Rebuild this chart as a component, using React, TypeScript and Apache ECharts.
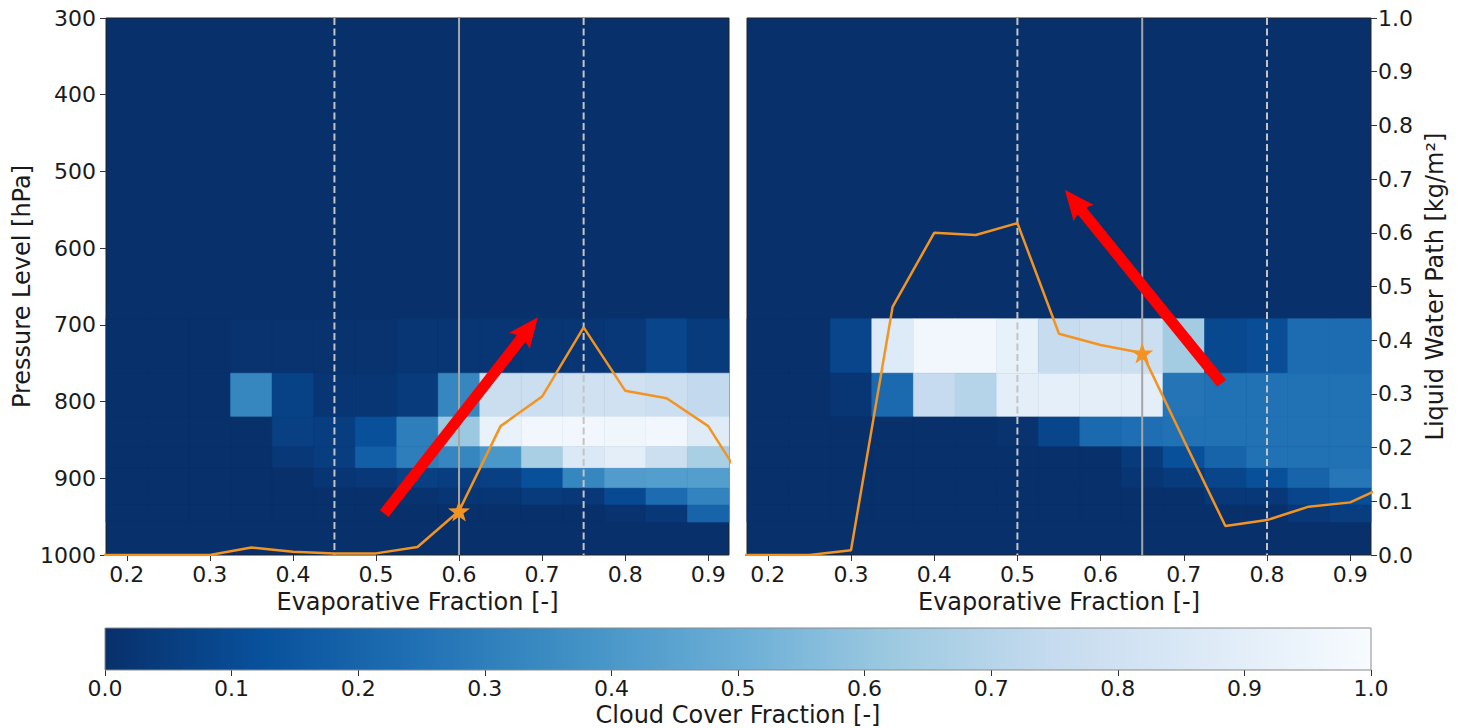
import React, { useEffect, useRef } from "react";
import * as echarts from "echarts";

// ---------- data ----------
const efTicks = [0.2, 0.3, 0.4, 0.5, 0.6, 0.7, 0.8, 0.9];
const efMin = 0.175;
const efMax = 0.925;
const pressureMin = 300;
const pressureMax = 1000;
const pressureStep = 100;
const lwpMin = 0;
const lwpMax = 1;
const lwpStep = 0.1;
const cbMin = 0;
const cbMax = 1;
const cbStep = 0.1;

// heatmap cells: evaporative-fraction bin centres and pressure bin edges (top -> bottom)
const cellCenters = [0.2, 0.25, 0.3, 0.35, 0.4, 0.45, 0.5, 0.55, 0.6, 0.65, 0.7, 0.75, 0.8, 0.85, 0.9];
const cellWidth = 0.05;
const pressureEdges = [692, 763, 820, 859, 887, 913, 935, 957];

// cloud cover fraction, rows follow pressureEdges, columns follow cellCenters
const cloudLeft = [
  [0, 0, 0, 0.01, 0.01, 0.01, 0.01, 0.02, 0.02, 0.02, 0.02, 0.02, 0.03, 0.08, 0.04],
  [0, 0, 0, 0.33, 0.07, 0.02, 0.02, 0.04, 0.33, 0.77, 0.78, 0.8, 0.8, 0.78, 0.74],
  [0, 0, 0, 0, 0.06, 0.05, 0.12, 0.3, 0.62, 0.93, 0.97, 0.97, 0.96, 0.97, 0.88],
  [0, 0, 0, 0, 0.03, 0.05, 0.18, 0.3, 0.33, 0.4, 0.66, 0.86, 0.9, 0.78, 0.66],
  [0, 0, 0, 0, 0, 0.02, 0.03, 0.06, 0.05, 0.06, 0.12, 0.33, 0.42, 0.43, 0.43],
  [0, 0, 0, 0, 0, 0, 0, 0.01, 0.02, 0.02, 0.04, 0.03, 0.1, 0.23, 0.32],
  [0, 0, 0, 0, 0, 0, 0, 0, 0, 0, 0, 0, 0.01, 0.03, 0.2],
];
const cloudRight = [
  [0, 0, 0.08, 0.87, 0.97, 0.97, 0.92, 0.76, 0.78, 0.78, 0.64, 0.09, 0.11, 0.23, 0.23],
  [0, 0, 0.02, 0.22, 0.75, 0.7, 0.9, 0.91, 0.9, 0.9, 0.26, 0.25, 0.25, 0.25, 0.25],
  [0, 0, 0, 0, 0, 0, 0.01, 0.08, 0.22, 0.24, 0.25, 0.25, 0.25, 0.25, 0.25],
  [0, 0, 0, 0, 0, 0, 0, 0, 0, 0.04, 0.12, 0.2, 0.25, 0.25, 0.25],
  [0, 0, 0, 0, 0, 0, 0, 0, 0, 0.02, 0.04, 0.08, 0.12, 0.2, 0.27],
  [0, 0, 0, 0, 0, 0, 0, 0, 0, 0, 0, 0.03, 0.03, 0.08, 0.11],
  [0, 0, 0, 0, 0, 0, 0, 0, 0, 0, 0, 0, 0, 0.03, 0.05],
];

// liquid water path lines
const efLine = [0.15, 0.2, 0.25, 0.3, 0.35, 0.4, 0.45, 0.5, 0.55, 0.6, 0.65, 0.7, 0.75, 0.8, 0.85, 0.9, 0.95];
const lwpLeft = [0, 0, 0, 0, 0.014, 0.006, 0.003, 0.003, 0.015, 0.082, 0.24, 0.295, 0.424, 0.306, 0.292, 0.24, 0.118];
const lwpRight = [0, 0, 0, 0.009, 0.462, 0.6, 0.596, 0.618, 0.412, 0.391, 0.376, 0.214, 0.054, 0.065, 0.09, 0.098, 0.134];

// star markers [ef, lwp]
const starLeft = [0.6, 0.082];
const starRight = [0.65, 0.376];

// vertical reference lines (evaporative fraction)
const dashedLeft = [0.45, 0.75];
const solidLeft = [0.6];
const dashedRight = [0.5, 0.8];
const solidRight = [0.65];

// arrows: [ef tail, hPa tail, ef tip, hPa tip]
const arrowLeft = [0.51, 946, 0.695, 690];
const arrowRight = [0.7455, 776, 0.557, 524];

// ---------- styling helpers ----------
const BLUES_R = ["#08306b", "#08519c", "#2171b5", "#4292c6", "#6baed6", "#9ecae1", "#c6dbef", "#deebf7", "#f7fbff"];
const FONT = "DejaVu Sans";
const TEXT = "#1a1a1a";
const ORANGE = "#f39422";

function hexToRgb(h: string) {
  return [parseInt(h.slice(1, 3), 16), parseInt(h.slice(3, 5), 16), parseInt(h.slice(5, 7), 16)];
}
function cmap(v: number) {
  const t = Math.max(0, Math.min(1, v)) * (BLUES_R.length - 1);
  const i = Math.min(Math.floor(t), BLUES_R.length - 2);
  const f = t - i;
  const a = hexToRgb(BLUES_R[i]);
  const b = hexToRgb(BLUES_R[i + 1]);
  const c = a.map((x, k) => Math.round(x + (b[k] - x) * f));
  return `rgb(${c[0]},${c[1]},${c[2]})`;
}

function cellData(matrix: number[][]) {
  const out: number[][] = [];
  matrix.forEach((row, r) => {
    row.forEach((v, c) => {
      out.push([cellCenters[c], pressureEdges[r], pressureEdges[r + 1], v]);
    });
  });
  return out;
}

const renderCell = (params: any, api: any) => {
  const x = api.value(0);
  const a = api.coord([x - cellWidth / 2, api.value(1)]);
  const b = api.coord([x + cellWidth / 2, api.value(2)]);
  const col = cmap(api.value(3));
  return {
    type: "rect",
    shape: {
      x: Math.min(a[0], b[0]),
      y: Math.min(a[1], b[1]),
      width: Math.abs(b[0] - a[0]),
      height: Math.abs(b[1] - a[1]),
    },
    style: { fill: col, stroke: col, lineWidth: 0.6 },
  };
};

const makeVLineRender = (color: string, dashed: boolean) => (params: any, api: any) => {
  const a = api.coord([api.value(0), api.value(1)]);
  const b = api.coord([api.value(0), api.value(2)]);
  return {
    type: "line",
    shape: { x1: a[0], y1: a[1], x2: b[0], y2: b[1] },
    style: { stroke: color, lineWidth: 2, lineDash: dashed ? [7, 3.5] : null },
  };
};

const renderArrow = (params: any, api: any) => {
  const p0 = api.coord([api.value(0), api.value(1)]);
  const p1 = api.coord([api.value(2), api.value(3)]);
  const dx = p1[0] - p0[0];
  const dy = p1[1] - p0[1];
  const len = Math.hypot(dx, dy);
  const ux = dx / len;
  const uy = dy / len;
  const nx = -uy;
  const ny = ux;
  const headLen = 27;
  const headHalf = 13;
  const stemHalf = 5.5;
  const bx = p1[0] - ux * headLen;
  const by = p1[1] - uy * headLen;
  const pts = [
    [p0[0] + nx * stemHalf, p0[1] + ny * stemHalf],
    [bx + nx * stemHalf, by + ny * stemHalf],
    [bx + nx * headHalf - ux * 3, by + ny * headHalf - uy * 3],
    [p1[0], p1[1]],
    [bx - nx * headHalf - ux * 3, by - ny * headHalf - uy * 3],
    [bx - nx * stemHalf, by - ny * stemHalf],
    [p0[0] - nx * stemHalf, p0[1] - ny * stemHalf],
  ];
  return { type: "polygon", shape: { points: pts }, style: { fill: "#ff0000" } };
};

const renderColorbar = (params: any, api: any) => {
  const a = api.coord([api.value(0), 0]);
  const b = api.coord([api.value(1), 1]);
  const stops = BLUES_R.map((c, i) => ({ offset: i / (BLUES_R.length - 1), color: c }));
  return {
    type: "rect",
    shape: { x: a[0], y: b[1], width: b[0] - a[0], height: a[1] - b[1] },
    style: { fill: new echarts.graphic.LinearGradient(0, 0, 1, 0, stops), stroke: "#8a8a8a", lineWidth: 1 },
  };
};

const STAR =
  "path://M0,-10L2.35,-3.24L9.51,-3.09L3.8,1.24L5.88,8.09L0,4.05L-5.88,8.09L-3.8,1.24L-9.51,-3.09L-2.35,-3.24Z";

const labelStyle = { fontFamily: FONT, fontSize: 22, color: TEXT };
const nameStyle = { fontFamily: FONT, fontSize: 24, color: TEXT };
const tickStyle = { show: true, length: 6, lineStyle: { color: "#333", width: 1 } };

function efAxis(gridIndex: number) {
  return {
    type: "value",
    gridIndex,
    min: efMin,
    max: efMax,
    name: "Evaporative Fraction [-]",
    nameLocation: "middle",
    nameGap: 34,
    nameTextStyle: nameStyle,
    axisLine: { show: false },
    axisTick: { ...tickStyle, customValues: efTicks },
    axisLabel: { ...labelStyle, margin: 8, customValues: efTicks, formatter: (v: number) => v.toFixed(1) },
    splitLine: { show: false },
  };
}

function lineData(ys: number[]) {
  return efLine.map((x, i) => [x, ys[i]]);
}

export default function App() {
  const ref = useRef<HTMLDivElement>(null);
  useEffect(() => {
    if (!ref.current) return;
    const chart = echarts.init(ref.current, null, { renderer: "svg" });
    const gridCommon = {
      top: 18,
      height: 537,
      show: true,
      backgroundColor: BLUES_R[0],
      borderColor: "#222",
      borderWidth: 1,
    };
    const option: any = {
      animation: false,
      backgroundColor: "#ffffff",
      textStyle: { fontFamily: FONT },
      grid: [
        { ...gridCommon, left: 106, width: 623 },
        { ...gridCommon, left: 747, width: 624 },
        { left: 105, top: 628, width: 1266, height: 42, show: false },
      ],
      xAxis: [
        efAxis(0),
        efAxis(1),
        {
          type: "value",
          gridIndex: 2,
          min: cbMin,
          max: cbMax,
          interval: cbStep,
          name: "Cloud Cover Fraction [-]",
          nameLocation: "middle",
          nameGap: 33,
          nameTextStyle: nameStyle,
          axisLine: { show: false },
          axisTick: tickStyle,
          axisLabel: { ...labelStyle, margin: 7, formatter: (v: number) => v.toFixed(1) },
          splitLine: { show: false },
        },
      ],
      yAxis: [
        {
          type: "value",
          gridIndex: 0,
          min: pressureMin,
          max: pressureMax,
          interval: pressureStep,
          inverse: true,
          name: "Pressure Level [hPa]",
          nameLocation: "middle",
          nameRotate: 90,
          nameGap: 72,
          nameTextStyle: nameStyle,
          axisLine: { show: false },
          axisTick: tickStyle,
          axisLabel: { ...labelStyle, margin: 10, formatter: (v: number) => String(v) },
          splitLine: { show: false },
        },
        { type: "value", gridIndex: 0, min: lwpMin, max: lwpMax, position: "right", show: false, splitLine: { show: false } },
        {
          type: "value",
          gridIndex: 1,
          min: pressureMin,
          max: pressureMax,
          interval: pressureStep,
          inverse: true,
          show: false,
          splitLine: { show: false },
        },
        {
          type: "value",
          gridIndex: 1,
          min: lwpMin,
          max: lwpMax,
          interval: lwpStep,
          position: "right",
          name: "Liquid Water Path [kg/m²]",
          nameLocation: "middle",
          nameRotate: 90,
          nameGap: 52,
          nameTextStyle: nameStyle,
          axisLine: { show: false },
          axisTick: tickStyle,
          axisLabel: { ...labelStyle, margin: 7, formatter: (v: number) => v.toFixed(1) },
          splitLine: { show: false },
        },
        { type: "value", gridIndex: 2, min: 0, max: 1, show: false, splitLine: { show: false } },
      ],
      series: [
        // heatmaps
        { type: "custom", xAxisIndex: 0, yAxisIndex: 0, renderItem: renderCell, data: cellData(cloudLeft), z: 1, silent: true },
        { type: "custom", xAxisIndex: 1, yAxisIndex: 2, renderItem: renderCell, data: cellData(cloudRight), z: 1, silent: true },
        // vertical lines
        {
          type: "custom", xAxisIndex: 0, yAxisIndex: 0, z: 2, silent: true,
          renderItem: makeVLineRender("#c4c4c4", true),
          data: dashedLeft.map((x) => [x, pressureMin, pressureMax]),
        },
        {
          type: "custom", xAxisIndex: 0, yAxisIndex: 0, z: 2, silent: true,
          renderItem: makeVLineRender("#a6a6a6", false),
          data: solidLeft.map((x) => [x, pressureMin, pressureMax]),
        },
        {
          type: "custom", xAxisIndex: 1, yAxisIndex: 2, z: 2, silent: true,
          renderItem: makeVLineRender("#c4c4c4", true),
          data: dashedRight.map((x) => [x, pressureMin, pressureMax]),
        },
        {
          type: "custom", xAxisIndex: 1, yAxisIndex: 2, z: 2, silent: true,
          renderItem: makeVLineRender("#a6a6a6", false),
          data: solidRight.map((x) => [x, pressureMin, pressureMax]),
        },
        // LWP lines
        {
          type: "line", xAxisIndex: 0, yAxisIndex: 1, z: 3, data: lineData(lwpLeft), showSymbol: false,
          lineStyle: { color: ORANGE, width: 2.5 }, itemStyle: { color: ORANGE }, clip: true, silent: true,
        },
        {
          type: "line", xAxisIndex: 1, yAxisIndex: 3, z: 3, data: lineData(lwpRight), showSymbol: false,
          lineStyle: { color: ORANGE, width: 2.5 }, itemStyle: { color: ORANGE }, clip: true, silent: true,
        },
        // stars
        {
          type: "scatter", xAxisIndex: 0, yAxisIndex: 1, z: 4, data: [starLeft], symbol: STAR, symbolSize: 22,
          symbolKeepAspect: true, itemStyle: { color: ORANGE, opacity: 1 }, silent: true,
        },
        {
          type: "scatter", xAxisIndex: 1, yAxisIndex: 3, z: 4, data: [starRight], symbol: STAR, symbolSize: 22,
          symbolKeepAspect: true, itemStyle: { color: ORANGE, opacity: 1 }, silent: true,
        },
        // arrows
        { type: "custom", xAxisIndex: 0, yAxisIndex: 0, z: 5, renderItem: renderArrow, data: [arrowLeft], silent: true },
        { type: "custom", xAxisIndex: 1, yAxisIndex: 2, z: 5, renderItem: renderArrow, data: [arrowRight], silent: true },
        // colorbar
        { type: "custom", xAxisIndex: 2, yAxisIndex: 4, renderItem: renderColorbar, data: [[cbMin, cbMax]], silent: true },
      ],
    };
    chart.setOption(option);
    return () => chart.dispose();
  }, []);
  return (
    <div
      ref={ref}
      style={{ position: "absolute", left: 0, top: 0, width: 1458, height: 728, background: "#fff" }}
    />
  );
}
